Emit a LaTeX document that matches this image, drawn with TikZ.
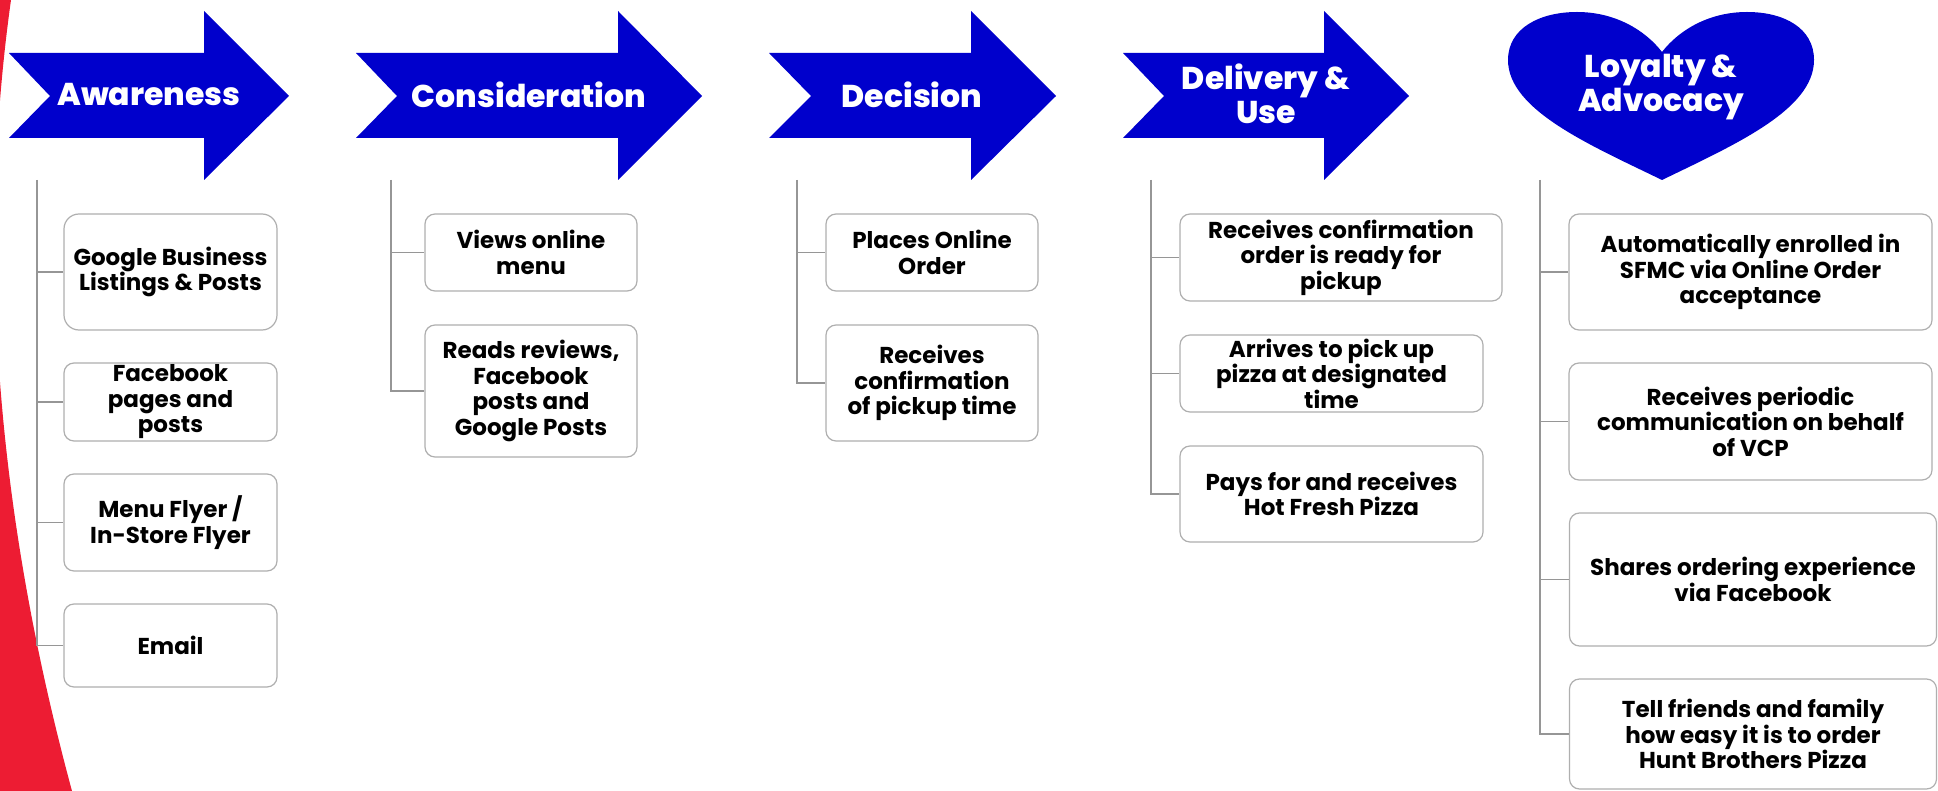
\documentclass[tikz,border=0pt]{standalone}
\usepackage{fontspec}
\setmainfont{Poppins}
\newfontfamily\stagefont{Poppins ExtraBold}
\usetikzlibrary{positioning}
\definecolor{stageblue}{RGB}{0,0,204}
\definecolor{swoosh}{RGB}{237,28,51}
\definecolor{boxline}{RGB}{175,175,175}
\definecolor{treeline}{RGB}{150,150,150}
\begin{document}
\begin{tikzpicture}[
    x=1pt, y=-1pt,
    stage/.style={fill=stageblue},
    stagetext/.style={text=white, align=center, font=\fontsize{31.5}{34}\selectfont\stagefont},
    card/.style={draw=boxline, line width=1.2pt, rounded corners=10pt, fill=white,
                 inner sep=0pt, align=center, font=\fontsize{23}{25.5}\selectfont\bfseries},
    branch/.style={draw=treeline, line width=1.3pt}
]
    \useasboundingbox (0,0) rectangle (1938,791);

    % red swoosh on the left edge
    \fill[swoosh] (-2,0) -- (11,0) .. controls (-24,250) and (-3,514) .. (72,791) -- (-2,791) -- cycle;

    % stage arrows along the top
    \fill[stage] (9,53) -- (204,53) -- (204,11) -- (289,96) -- (204,180) -- (204,138) -- (9,138) -- (50,96) -- cycle;
    \fill[stage] (356,53) -- (618,53) -- (618,11) -- (702,96) -- (618,180) -- (618,138) -- (356,138) -- (397,96) -- cycle;
    \fill[stage] (769,53) -- (971,53) -- (971,11) -- (1056,96) -- (971,180) -- (971,138) -- (769,138) -- (811,96) -- cycle;
    \fill[stage] (1123,53) -- (1324,53) -- (1324,11) -- (1409,96) -- (1324,180) -- (1324,138) -- (1123,138) -- (1164,96) -- cycle;

    % heart for the last stage
    \fill[stage] (1662,180) .. controls (1590,145) and (1508,110) .. (1508,60)
        .. controls (1508,28) and (1540,12) .. (1577,12)
        .. controls (1615,12) and (1645,30) .. (1662,52)
        .. controls (1679,30) and (1709,12) .. (1747,12)
        .. controls (1784,12) and (1814,28) .. (1814,60)
        .. controls (1814,110) and (1734,145) .. (1662,180) -- cycle;

    \node[stagetext] (aw) at (149,95) {Awareness};
    \node[stagetext] (co) at (529,95) {Consideration};
    \node[stagetext] (de) at (912,95) {Decision};
    \node[stagetext] (du) at (1266,94) {Delivery \&\\Use};
    \node[stagetext] (la) at (1661,87) {Loyalty \&\\Advocacy};

    % awareness column
    \node[card, minimum width=213pt, minimum height=116pt, rounded corners=15pt] (aw1) at (170.5,272) {Google Business\\Listings \& Posts};
    \node[card, minimum width=213pt, minimum height=78pt] (aw2) at (170.5,402) {Facebook\\pages and\\posts};
    \node[card, minimum width=213pt, minimum height=97pt] (aw3) at (170.5,522.5) {Menu Flyer /\\In-Store Flyer};
    \node[card, minimum width=213pt, minimum height=83pt] (aw4) at (170.5,645.5) {Email};

    % consideration column
    \node[card, minimum width=212pt, minimum height=77pt] (co1) at (531,252.5) {Views online\\menu};
    \node[card, minimum width=212pt, minimum height=132pt] (co2) at (531,391) {Reads reviews,\\Facebook\\posts and\\Google Posts};

    % decision column
    \node[card, minimum width=212pt, minimum height=77pt] (de1) at (932,252.5) {Places Online\\Order};
    \node[card, minimum width=212pt, minimum height=116pt] (de2) at (932,383) {Receives\\confirmation\\of pickup time};

    % delivery column
    \node[card, minimum width=322pt, minimum height=87pt] (du1) at (1341,257.5) {Receives confirmation\\order is ready for\\pickup};
    \node[card, minimum width=303pt, minimum height=77pt] (du2) at (1331.5,373.5) {Arrives to pick up\\pizza at designated\\time};
    \node[card, minimum width=303pt, minimum height=96pt] (du3) at (1331.5,494) {Pays for and receives\\Hot Fresh Pizza};

    % loyalty column
    \node[card, minimum width=363pt, minimum height=116pt] (la1) at (1750.5,272) {Automatically enrolled in\\SFMC via Online Order\\acceptance};
    \node[card, minimum width=363pt, minimum height=117pt] (la2) at (1750.5,421.5) {Receives periodic\\communication on behalf\\of VCP};
    \node[card, minimum width=367pt, minimum height=133pt] (la3) at (1753,579.5) {Shares ordering experience\\via Facebook};
    \node[card, minimum width=367pt, minimum height=110pt] (la4) at (1753,734) {Tell friends and family\\how easy it is to order\\Hunt Brothers Pizza};

    % tree lines
    \coordinate (awtop) at (37,180);
    \coordinate (cotop) at (391,180);
    \coordinate (detop) at (797,180);
    \coordinate (dutop) at (1151,180);
    \coordinate (latop) at (1540,180);

    \draw[branch] (awtop) |- (aw4.west);
    \draw[branch] (awtop |- aw1.west) -- (aw1.west);
    \draw[branch] (awtop |- aw2.west) -- (aw2.west);
    \draw[branch] (awtop |- aw3.west) -- (aw3.west);

    \draw[branch] (cotop) |- (co2.west);
    \draw[branch] (cotop |- co1.west) -- (co1.west);

    \draw[branch] (detop) |- (de2.west);
    \draw[branch] (detop |- de1.west) -- (de1.west);

    \draw[branch] (dutop) |- (du3.west);
    \draw[branch] (dutop |- du1.west) -- (du1.west);
    \draw[branch] (dutop |- du2.west) -- (du2.west);

    \draw[branch] (latop) |- (la4.west);
    \draw[branch] (latop |- la1.west) -- (la1.west);
    \draw[branch] (latop |- la2.west) -- (la2.west);
    \draw[branch] (latop |- la3.west) -- (la3.west);
\end{tikzpicture}
\end{document}
